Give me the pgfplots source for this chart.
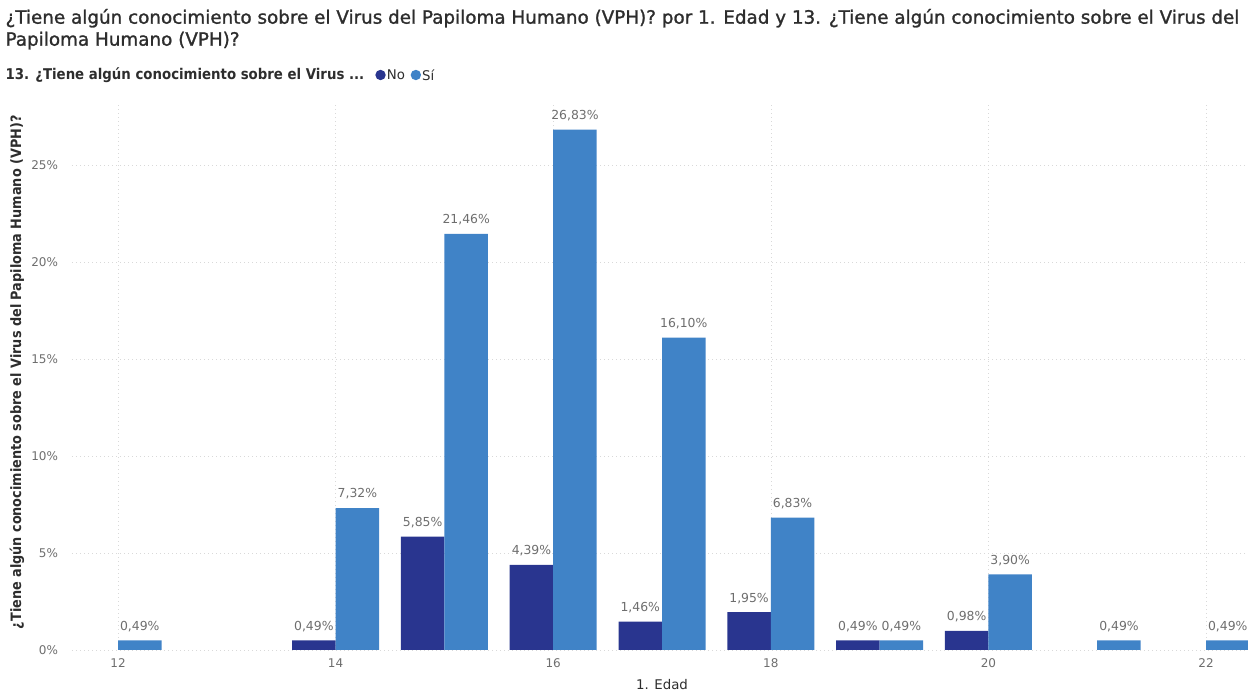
\documentclass[border=0pt]{standalone}
\usepackage{pgfplots}
\usepackage{pgfplotstable}
\pgfplotsset{compat=1.18}
\usepackage{fontspec}
\setmainfont{DejaVu Sans}
\newfontfamily\titlefont{DejaVu Sans}[FakeBold=1.3]
\newfontfamily\condfont{DejaVu Sans Condensed}
\definecolor{cno}{RGB}{41,53,143}
\definecolor{csi}{RGB}{64,131,199}
\definecolor{ctitle}{RGB}{45,45,45}
\definecolor{ctick}{RGB}{110,110,110}
\pgfplotstableread{
x y
14 0.49
15 5.85
16 4.39
17 1.46
18 1.95
19 0.49
20 0.98
}\tno
\pgfplotstableread{
x y
12 0.49
14 7.32
15 21.46
16 26.83
17 16.10
18 6.83
19 0.49
20 3.90
21 0.49
22 0.49
}\tsi
\begin{document}
\begin{tikzpicture}
\path[use as bounding box] (0,0) rectangle (936pt,521.25pt);
\begin{axis}[
 at={(54pt,33.75pt)}, anchor=south west, scale only axis,
 width=882pt, height=408.75pt,
 xmin=11.577, xmax=22.386, ymin=0, ymax=28.1,
 axis line style={draw=none}, tick style={draw=none},
 xtick={12,14,...,22}, ytick={0,5,...,25},
 /pgf/number format/assume math mode=true,
 yticklabel={\pgfmathprintnumber{\tick}\%},
 ticklabel style={text=ctick, font=\fontsize{9}{10}\selectfont},
 xticklabel style={yshift=-3pt},
 yticklabel style={xshift=-7pt},
 grid=major, grid style={dash pattern=on 1pt off 2pt, gray!30},
 nodes near coords={\pgfmathprintnumber[fixed,fixed zerofill,precision=2,use comma,assume math mode=true]{\pgfplotspointmeta}\%},
 every node near coord/.append style={text=ctick, font=\fontsize{9.3}{10}\selectfont, yshift=3pt},
]
\addplot[ybar, bar width=0.4, bar shift=0pt, fill=cno, draw=none] table[x expr=\thisrow{x}-0.2,y=y] {\tno};
\addplot[ybar, bar width=0.4, bar shift=0pt, fill=csi, draw=none] table[x expr=\thisrow{x}+0.2,y=y] {\tsi};
\end{axis}
\node[anchor=base west, inner sep=0, text=ctitle, font=\titlefont\fontsize{13.75}{15}\selectfont] at (4pt,503.5pt)
 {¿Tiene algún conocimiento sobre el Virus del Papiloma Humano (VPH)? por 1. Edad y 13. ¿Tiene algún conocimiento sobre el Virus del};
\node[anchor=base west, inner sep=0, text=ctitle, font=\titlefont\fontsize{13.75}{15}\selectfont] at (4pt,487pt)
 {Papiloma Humano (VPH)?};
\node[anchor=west, inner sep=0, text=ctitle, font=\condfont\bfseries\fontsize{11.1}{12}\selectfont] (lg) at (4pt,465pt) {13. ¿Tiene algún conocimiento sobre el Virus ...};
\fill[cno] ([xshift=12pt]lg.east) circle (3.9pt);
\node[anchor=west, inner sep=0, text=ctitle, font=\fontsize{10}{11}\selectfont] (lno) at ([xshift=16.5pt]lg.east) {No};
\fill[csi] ([xshift=8pt]lno.east) circle (3.9pt);
\node[anchor=west, inner sep=0, text=ctitle, font=\fontsize{10}{11}\selectfont] at ([xshift=12.5pt]lno.east) {Sí};
\node[rotate=90, inner sep=0, text=ctitle, font=\condfont\bfseries\fontsize{10.7}{12}\selectfont] at (12.75pt,242pt) {¿Tiene algún conocimiento sobre el Virus del Papiloma Humano (VPH)?};
\node[inner sep=0, text=ctitle, font=\fontsize{10}{11}\selectfont] at (496.5pt,7.5pt) {1. Edad};
\end{tikzpicture}
\end{document}
